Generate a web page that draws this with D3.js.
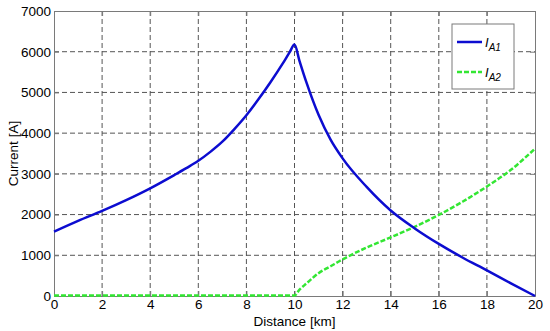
<!DOCTYPE html>
<html>
<head>
<meta charset="utf-8">
<script src="https://cdn.jsdelivr.net/npm/d3@7"></script>
<style>
  body { margin: 0; background: #fff; }
  svg { display: block; font-family: "Liberation Sans", Arial, sans-serif; }
</style>
</head>
<body>
<svg id="chart"></svg>
<script>
// distance [km] and currents [A]
const distA1 = [0, 1, 2, 3, 4, 5, 5.5, 6, 6.5, 7, 7.5, 8, 8.5, 9, 9.5, 9.8, 10, 10.2, 10.5, 11, 11.5, 12, 13, 14, 15, 16, 17, 18, 19, 20];
const currentA1 = [1580, 1845, 2090, 2355, 2645, 2970, 3140, 3320, 3540, 3790, 4100, 4440, 4830, 5250, 5700, 5990, 6175, 5790, 5240, 4450, 3840, 3380, 2680, 2100, 1660, 1280, 940, 630, 310, 0];

const distA2 = [0, 2, 4, 6, 8, 10, 10.2, 10.5, 11, 11.5, 12, 13, 14, 15, 16, 17, 18, 19, 20];
const currentA2 = [15, 15, 15, 15, 15, 15, 150, 310, 560, 730, 900, 1190, 1440, 1700, 1990, 2320, 2690, 3100, 3620];

const xTicks = [0, 2, 4, 6, 8, 10, 12, 14, 16, 18, 20];
const yTicks = [0, 1000, 2000, 3000, 4000, 5000, 6000, 7000];

const seriesNames = ["A1", "A2"];

function drawChart() {
    const width = 550, height = 331;
    const margin = { top: 11, right: 15, bottom: 35, left: 54 };

    const svg = d3.select("#chart")
        .attr("width", width)
        .attr("height", height)
        .attr("viewBox", `0 0 ${width} ${height}`);

    const x = d3.scaleLinear().domain([0, 20]).range([margin.left, width - margin.right]);
    const y = d3.scaleLinear().domain([0, 7000]).range([height - margin.bottom, margin.top]);

    // dashed grid
    svg.append("g")
        .selectAll("line")
        .data(xTicks.slice(1, -1))
        .enter().append("line")
        .attr("x1", d => x(d)).attr("x2", d => x(d))
        .attr("y1", y(0)).attr("y2", y(7000))
        .attr("stroke", "#555").attr("stroke-width", 1).attr("stroke-dasharray", "5,3");

    svg.append("g")
        .selectAll("line")
        .data(yTicks.slice(1, -1))
        .enter().append("line")
        .attr("x1", x(0)).attr("x2", x(20))
        .attr("y1", d => y(d)).attr("y2", d => y(d))
        .attr("stroke", "#555").attr("stroke-width", 1).attr("stroke-dasharray", "5,3");

    // axes, ticks pointing inward like matlab
    svg.append("g")
        .attr("transform", `translate(0,${y(0)})`)
        .call(d3.axisBottom(x).tickValues(xTicks).tickFormat(d3.format("d")).tickSize(-5).tickPadding(3));
    svg.append("g")
        .attr("transform", `translate(${x(0)},0)`)
        .call(d3.axisLeft(y).tickValues(yTicks).tickFormat(d3.format("d")).tickSize(-5).tickPadding(3));
    svg.append("g")
        .attr("transform", `translate(0,${y(7000)})`)
        .call(d3.axisTop(x).tickValues(xTicks).tickSize(-5).tickFormat(""));
    svg.append("g")
        .attr("transform", `translate(${x(20)},0)`)
        .call(d3.axisRight(y).tickValues(yTicks).tickSize(-5).tickFormat(""));

    svg.selectAll(".domain, .tick line").attr("stroke", "#7a7a7a");
    svg.selectAll(".tick text")
        .attr("font-size", "13.5px")
        .attr("fill", "#000")
        .attr("font-family", "'Liberation Sans', Arial, sans-serif");

    // axis titles
    svg.append("text")
        .attr("x", (x(0) + x(20)) / 2)
        .attr("y", 326)
        .attr("text-anchor", "middle")
        .attr("font-size", "13.5px")
        .text("Distance [km]");

    svg.append("text")
        .attr("transform", `translate(18,${(y(0) + y(7000)) / 2}) rotate(-90)`)
        .attr("text-anchor", "middle")
        .attr("font-size", "13.5px")
        .text("Current [A]");

    // the two currents
    const line = d3.line()
        .x(d => x(d[0]))
        .y(d => y(d[1]))
        .curve(d3.curveMonotoneX);

    svg.append("path")
        .datum(distA2.map((d, i) => [d, currentA2[i]]))
        .attr("d", line)
        .attr("fill", "none")
        .attr("stroke", "#33e633")
        .attr("stroke-width", 2.5)
        .attr("stroke-dasharray", "5,2");

    svg.append("path")
        .datum(distA1.map((d, i) => [d, currentA1[i]]))
        .attr("d", line)
        .attr("fill", "none")
        .attr("stroke", "#0c0cd0")
        .attr("stroke-width", 2.5);

    // legend
    const lg = svg.append("g");
    lg.append("rect")
        .attr("x", 452).attr("y", 24)
        .attr("width", 62).attr("height", 65)
        .attr("fill", "#fff")
        .attr("stroke", "#7a7a7a");

    const colors = ["#0c0cd0", "#33e633"];
    const dashes = [null, "5,2"];
    seriesNames.forEach((name, i) => {
        const ly = 42 + i * 30;
        lg.append("line")
            .attr("x1", 457).attr("x2", 482)
            .attr("y1", ly).attr("y2", ly)
            .attr("stroke", colors[i])
            .attr("stroke-width", 2.5)
            .attr("stroke-dasharray", dashes[i]);
        const t = lg.append("text")
            .attr("x", 485)
            .attr("y", ly + 5)
            .attr("font-size", "13px")
            .attr("font-style", "italic");
        t.append("tspan").text("I");
        t.append("tspan")
            .attr("dy", 4)
            .attr("font-size", "10px")
            .text(name);
    });
}

drawChart();
</script>
</body>
</html>
